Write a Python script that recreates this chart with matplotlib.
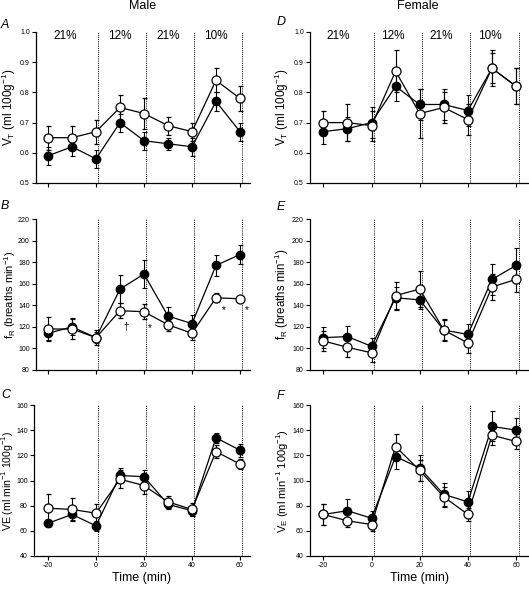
import matplotlib
matplotlib.use("Agg")
import matplotlib.pyplot as plt

plt.rcParams['font.family'] = ['Liberation Sans', 'DejaVu Sans']
plt.rcParams['mathtext.default'] = 'regular'

time = [-20, -10, 0, 10, 20, 30, 40, 50, 60]
o2_labels = ['21%', '12%', '21%', '10%']
o2_pos = [-13, 10, 30, 50]
boundaries = [1, 21, 41, 61]

# Male
male_vt_filled = [0.59, 0.62, 0.58, 0.70, 0.64, 0.63, 0.62, 0.77, 0.67]
male_vt_filled_err = [0.03, 0.03, 0.03, 0.03, 0.03, 0.02, 0.03, 0.03, 0.03]
male_vt_open = [0.65, 0.65, 0.67, 0.75, 0.73, 0.69, 0.67, 0.84, 0.78]
male_vt_open_err = [0.04, 0.04, 0.04, 0.04, 0.05, 0.03, 0.03, 0.04, 0.04]

male_fr_filled = [114, 120, 110, 155, 169, 130, 123, 177, 187]
male_fr_filled_err = [6, 8, 5, 13, 13, 8, 8, 10, 9]
male_fr_open = [118, 118, 110, 135, 134, 122, 114, 147, 146]
male_fr_open_err = [11, 9, 7, 7, 7, 6, 6, 4, 3]

male_ve_filled = [66, 73, 64, 104, 103, 81, 76, 134, 124]
male_ve_filled_err = [3, 4, 4, 6, 5, 4, 4, 4, 5]
male_ve_open = [78, 77, 74, 101, 96, 83, 77, 123, 113]
male_ve_open_err = [11, 9, 7, 7, 7, 5, 5, 5, 4]

# Female
female_vt_filled = [0.67, 0.68, 0.70, 0.82, 0.76, 0.76, 0.74, 0.88, 0.82]
female_vt_filled_err = [0.04, 0.04, 0.05, 0.05, 0.05, 0.05, 0.05, 0.06, 0.06]
female_vt_open = [0.70, 0.70, 0.69, 0.87, 0.73, 0.75, 0.71, 0.88, 0.82]
female_vt_open_err = [0.04, 0.06, 0.05, 0.07, 0.08, 0.05, 0.05, 0.05, 0.06]

female_fr_filled = [110, 111, 102, 147, 145, 117, 113, 164, 177]
female_fr_filled_err = [10, 10, 8, 10, 8, 10, 10, 14, 16]
female_fr_open = [107, 101, 96, 149, 155, 117, 105, 157, 164]
female_fr_open_err = [9, 9, 9, 13, 17, 9, 9, 12, 12]

female_ve_filled = [73, 76, 70, 119, 110, 89, 83, 143, 140]
female_ve_filled_err = [8, 9, 6, 10, 10, 9, 9, 12, 10]
female_ve_open = [73, 68, 65, 127, 108, 87, 73, 136, 131]
female_ve_open_err = [8, 5, 5, 10, 8, 8, 5, 8, 6]

# significance marks (male fR)
sig_symbols = ['\u2020', '*', '*', '*']
sig_x = [12.5, 22.5, 53.3, 62.8]
sig_y = [120, 119, 136, 136]

fig = plt.figure(figsize=(5.29, 5.89), dpi=100)

W, H = 529.0, 589.0
def ax_at(left_px, top_px, right_px, bottom_px):
    return fig.add_axes([left_px / W, 1 - bottom_px / H,
                         (right_px - left_px) / W, (bottom_px - top_px) / H])

rows = [(32, 183), (219, 370), (405, 556)]
col_left = [[36, 36, 34], [310, 310, 310]]
col_right = [250, 529]
x_m20 = [48.0, 323.3]
px_per_min = [2.4, 2.41]

ylims = [(0.5, 1.0), (80, 220), (40, 160)]
yticks = [[0.5, 0.6, 0.7, 0.8, 0.9, 1.0], list(range(80, 221, 20)), list(range(40, 161, 20))]
ylabels_m = [r'V$_T$ (ml 100g$^{-1}$)', r'f$_R$ (breaths min$^{-1}$)', r'$\dot{V}$E (ml min$^{-1}$ 100g$^{-1}$)']
ylabels_f = [r'V$_T$ (ml 100g$^{-1}$)', r'f$_R$ (breaths min$^{-1}$)', r'$\dot{V}_E$ (ml min$^{-1}$ 100g$^{-1}$)']
ylabel_size = [[8.5, 8.0, 7.6], [8.5, 8.3, 8.0]]
ylabel_right_px = [[18, 17.5, 16], [291, 291, 291]]
letters = [['A', 'B', 'C'], ['D', 'E', 'F']]
letter_x_px = [1, 277]
letter_gap_px = [[1, 7, 4], [4, 6, 3]]

data = [
    [(male_vt_filled, male_vt_filled_err, male_vt_open, male_vt_open_err),
     (male_fr_filled, male_fr_filled_err, male_fr_open, male_fr_open_err),
     (male_ve_filled, male_ve_filled_err, male_ve_open, male_ve_open_err)],
    [(female_vt_filled, female_vt_filled_err, female_vt_open, female_vt_open_err),
     (female_fr_filled, female_fr_filled_err, female_fr_open, female_fr_open_err),
     (female_ve_filled, female_ve_filled_err, female_ve_open, female_ve_open_err)],
]

for c in range(2):
    rpx = col_right[c]
    for r, (tpx, bpx) in enumerate(rows):
        lpx = col_left[c][r]
        ax = ax_at(lpx, tpx, rpx, bpx)
        xl = (-20 - (x_m20[c] - lpx) / px_per_min[c], -20 + (rpx - x_m20[c]) / px_per_min[c])
        f, fe, o, oe = data[c][r]
        for b in boundaries:
            ax.axvline(b, color='black', lw=0.7, ls=(0, (1, 1.2)), zorder=1)
        ax.errorbar(time, f, yerr=fe, fmt='-o', color='black', mfc='black', mec='black',
                    ms=6, lw=0.9, elinewidth=0.8, capsize=1.8, capthick=0.8, zorder=3)
        ax.errorbar(time, o, yerr=oe, fmt='-o', color='black', mfc='white', mec='black',
                    ms=6.5, mew=0.9, lw=0.9, elinewidth=0.8, capsize=1.8, capthick=0.8, zorder=4)
        ax.set_xlim(*xl)
        ax.set_ylim(*ylims[r])
        ax.set_yticks(yticks[r])
        if r == 0:
            ax.set_yticklabels(['%.1f' % v for v in yticks[r]])
        ax.set_xticks(time[::2])
        if r == 2:
            ax.set_xticklabels([str(t) for t in time[::2]])
            ax.set_xlabel('Time (min)', fontsize=9, labelpad=2)
        else:
            ax.set_xticklabels([])
        for s in ['top', 'right']:
            ax.spines[s].set_visible(False)
        for s in ['left', 'bottom']:
            ax.spines[s].set_linewidth(0.9)
        ax.tick_params(axis='both', direction='out', length=3, width=0.8, labelsize=5, pad=1.5)
        ax.set_ylabel((ylabels_m if c == 0 else ylabels_f)[r], fontsize=ylabel_size[c][r])
        ax.yaxis.set_label_coords((ylabel_right_px[c][r] - lpx) / (rpx - lpx), 0.5)
        ax_h = bpx - tpx
        ax.text((letter_x_px[c] - lpx) / (rpx - lpx),
                1 + letter_gap_px[c][r] / ax_h,
                letters[c][r], transform=ax.transAxes,
                fontsize=9, style='italic', ha='left', va='bottom')
        if r == 0:
            for lab, xp in zip(o2_labels, o2_pos):
                ax.text(xp if c == 0 else xp - 1, 0.987, lab, ha='center', va='center', fontsize=8.5)
        if c == 0 and r == 1:
            for sym, sx, sy in zip(sig_symbols, sig_x, sig_y):
                ax.text(sx, sy, sym, ha='center', va='center', fontsize=7)

fig.text(143 / W, 1 - 6 / H, 'Male', ha='center', va='center', fontsize=9)
fig.text(418 / W, 1 - 6 / H, 'Female', ha='center', va='center', fontsize=9)

fig.savefig('out.png', dpi=100)
